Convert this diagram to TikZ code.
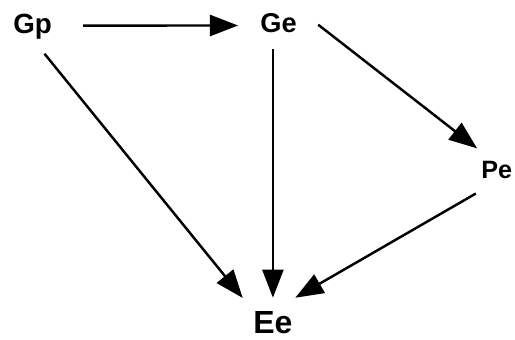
\documentclass[tikz,border=0pt]{standalone}
\usepackage{fontspec}
\setmainfont{Liberation Sans}
\usetikzlibrary{arrows.meta}

\begin{document}
\begin{tikzpicture}[
 x=0.02cm,y=-0.02cm,
 lbl/.style={inner sep=0pt,anchor=base west},
 flow/.style={-{Triangle[length=16pt,width=12pt]},draw=black,line width=1.4pt}
]
\useasboundingbox (0,0) rectangle (515,339);

\node[lbl,font=\fontsize{15.8}{18}\selectfont\bfseries] (gp) at (13,33) {Gp};
\node[lbl,font=\fontsize{15.5}{18}\selectfont\bfseries] (ge) at (260,32) {Ge};
\node[lbl,font=\fontsize{14.3}{17}\selectfont\bfseries] (pe) at (481,178) {Pe};
\node[lbl,font=\fontsize{18.2}{21}\selectfont\bfseries] (ee) at (253,333) {Ee};

\draw[flow,shorten <=17.6pt,shorten >=12.5pt] ([yshift=4.25pt]gp.base east) -- ([yshift=3.7pt]ge.base west);
\draw[flow,shorten <=10.7pt,shorten >=9.3pt] (gp.south) -- (ee.north west);
\draw[flow,shorten <=9.6pt,shorten >=7.4pt] (ee.north |- ge.south) -- (ee.north);
\draw[flow,shorten <=15.3pt,shorten >=2.8pt] ([yshift=2.5pt]ge.north east) -- ([yshift=5.1pt]pe.north west);
\draw[flow,shorten <=3.4pt,shorten >=14.7pt] ([yshift=-6.8pt]pe.south west) -- (ee.north);
\end{tikzpicture}
\end{document}
